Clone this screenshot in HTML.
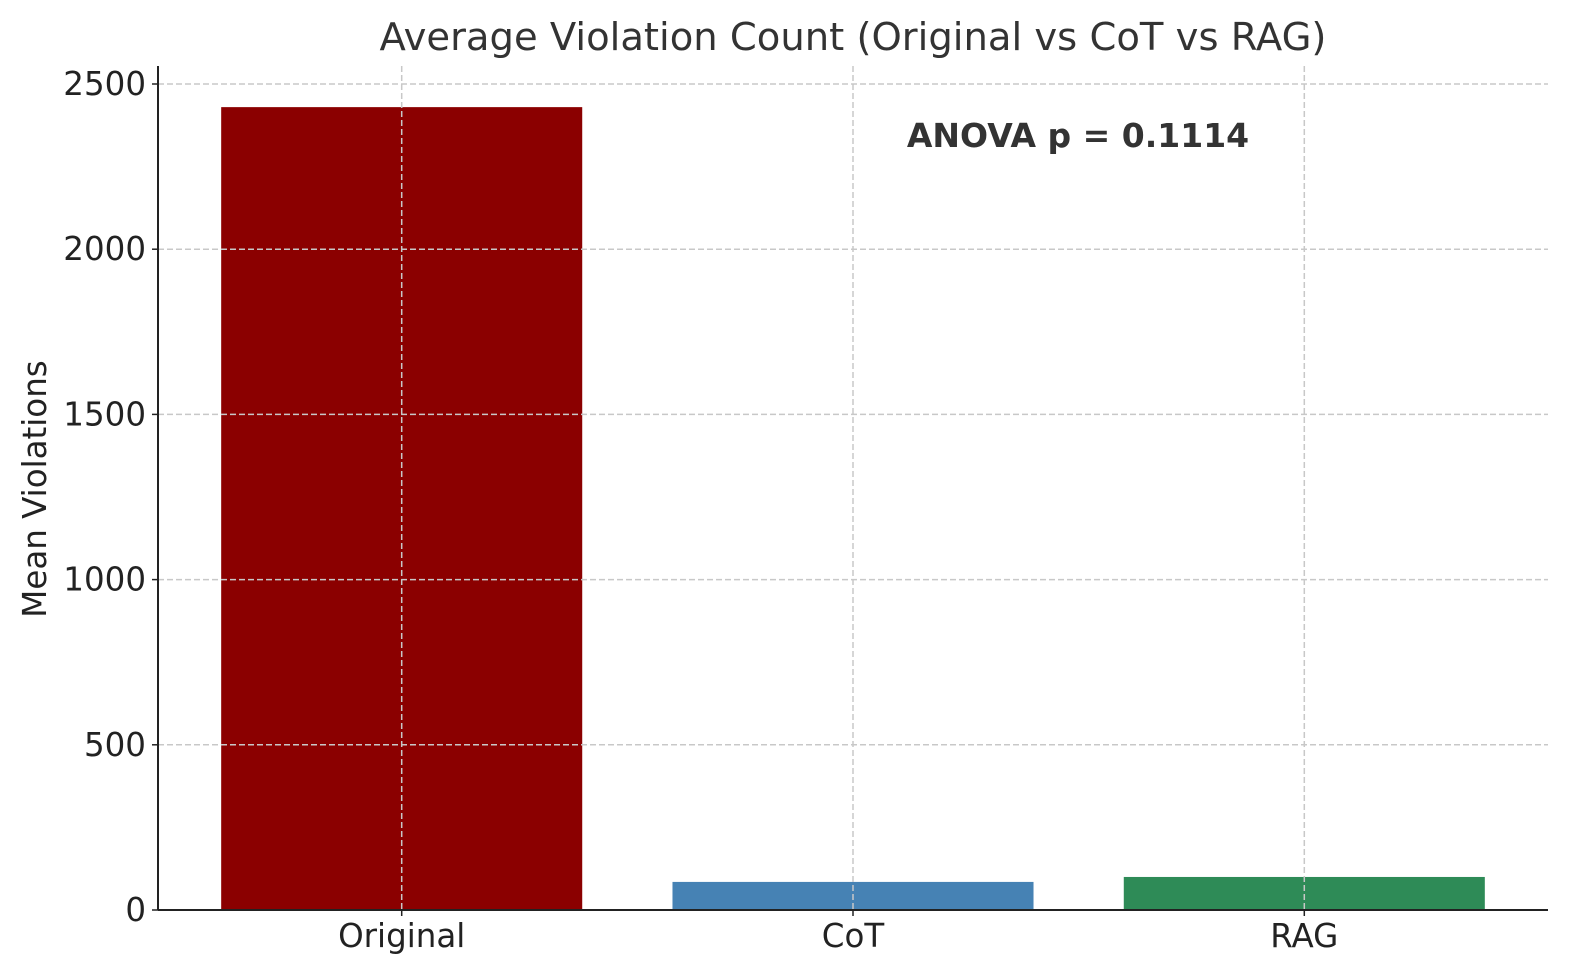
<!DOCTYPE html>
<html><head><meta charset="utf-8"><style>
html,body{margin:0;padding:0;background:#fff}
svg{display:block;font-family:"DejaVu Sans","Liberation Sans",sans-serif}
</style></head><body>
<svg id="chart" width="1580" height="980" viewBox="0 0 1580 980">
<text x="853" y="50" text-anchor="middle" font-size="38.5" fill="#333">Average Violation Count (Original vs CoT vs RAG)</text>
<text transform="translate(46,489) rotate(-90)" text-anchor="middle" font-size="32.5" fill="#222">Mean Violations</text>
<g id="bars"></g>
<g id="grid"></g>
<g id="axes"></g>
<text x="1078" y="147" text-anchor="middle" font-size="33" font-weight="bold" fill="#333">ANOVA p = 0.1114</text>
</svg>
<script>
const categories = ["Original","CoT","RAG"];
const values = [2430, 85, 100];
const colors = ["#8b0000","#4682b4","#2e8b57"];
const yTicks = [0,500,1000,1500,2000,2500];

const L=158,R=1548,T=66,B=910;
const yMax=2500, yTopPx=84;
function yS(v){return B-(B-yTopPx)*v/yMax;}
const step=(R-L)/3.08;
function xS(i){return L+(i+0.54)*step;}
const bw=0.8*step;
const NS="http://www.w3.org/2000/svg";
function mk(tag,attrs,parent){const e=document.createElementNS(NS,tag);for(const k in attrs)e.setAttribute(k,attrs[k]);parent.appendChild(e);return e;}
const gb=document.getElementById('bars'),gg=document.getElementById('grid'),ga=document.getElementById('axes');
categories.forEach((c,i)=>{
  const r=mk('rect',{x:xS(i)-bw/2,y:yS(values[i]),width:bw,height:B-yS(values[i]),fill:colors[i]},gb);
  
  
  const gl=mk('line',{x1:xS(i),x2:xS(i),y1:T,y2:B,stroke:'#c8c8c8','stroke-width':1.5,'stroke-dasharray':'6,3'},gg);
  
  
  const t=mk('text',{x:xS(i),y:B+37,'text-anchor':'middle','font-size':32.5,fill:'#222'},ga);
  t.textContent=c;
  
  
  mk('line',{x1:xS(i),x2:xS(i),y1:B,y2:B+6,stroke:'#222','stroke-width':1.5},ga);
});
yTicks.forEach(v=>{
  const gl=mk('line',{x1:L,x2:R,y1:yS(v),y2:yS(v),stroke:'#c8c8c8','stroke-width':1.5,'stroke-dasharray':'6,3'},gg);
  
  
  mk('line',{x1:L-6,x2:L,y1:yS(v),y2:yS(v),stroke:'#222','stroke-width':1.5},ga);
  const t=mk('text',{x:L-12,y:yS(v)+11,'text-anchor':'end','font-size':32.5,fill:'#222'},ga);
  t.textContent=v;
  
  
});
const ys=mk('line',{x1:L,x2:L,y1:T,y2:B,stroke:'#222','stroke-width':2},ga);


const xs=mk('line',{x1:L,x2:R,y1:B,y2:B,stroke:'#222','stroke-width':2},ga);


</script>
</body></html>
